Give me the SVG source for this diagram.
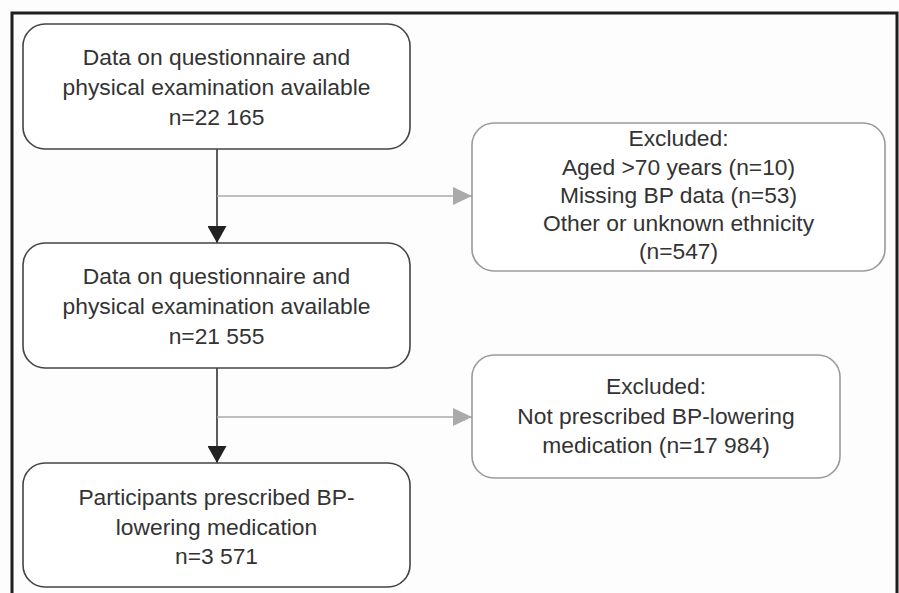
<svg xmlns="http://www.w3.org/2000/svg" width="899" height="593" viewBox="0 0 899 593">
<defs>
<style>
.main{fill:#ffffff;stroke:#444;stroke-width:1.6}
.excl{fill:#ffffff;stroke:#9a9a9a;stroke-width:1.6}
text{font-family:"Liberation Sans",Arial,sans-serif;font-size:22.8px;fill:#333;text-anchor:middle}
.dk{stroke:#333;stroke-width:1.6;fill:none}
.gr{stroke:#a8a8a8;stroke-width:1.6;fill:none}
</style>
<marker id="ad" markerWidth="19" markerHeight="17" refX="9.5" refY="17" orient="0" markerUnits="userSpaceOnUse" viewBox="0 0 19 17">
<path d="M0,0 L19,0 L9.5,17 Z" fill="#222"/>
</marker>
<marker id="ag" markerWidth="19" markerHeight="18" refX="19" refY="9" orient="0" markerUnits="userSpaceOnUse" viewBox="0 0 19 18">
<path d="M0,0 L19,9 L0,18 Z" fill="#aaa"/>
</marker>
</defs>
<rect x="0" y="0" width="899" height="593" fill="#fdfdfd"/>
<path d="M12,593 L12,13 L897,13 L897,593" fill="none" stroke="#1e1e1e" stroke-width="3"/>
<g id="connectors">
<line class="dk" x1="217" y1="149" x2="217" y2="243" marker-end="url(#ad)"/>
<line class="gr" x1="217" y1="196" x2="472" y2="196" marker-end="url(#ag)"/>
<line class="dk" x1="217" y1="368" x2="217" y2="463" marker-end="url(#ad)"/>
<line class="gr" x1="217" y1="417" x2="472" y2="417" marker-end="url(#ag)"/>
</g>
<g id="n1">
<rect class="main" x="23" y="24" width="387" height="125" rx="22"/>
<text x="216.5" y="65">Data on questionnaire and</text>
<text x="216.5" y="95">physical examination available</text>
<text x="216.5" y="125">n=22 165</text>
</g>
<g id="ex1">
<rect class="excl" x="472" y="123" width="413" height="148" rx="22"/>
<text x="678.5" y="146">Excluded:</text>
<text x="678.5" y="175">Aged &gt;70 years (n=10)</text>
<text x="678.5" y="203">Missing BP data (n=53)</text>
<text x="678.5" y="231">Other or unknown ethnicity</text>
<text x="678.5" y="259">(n=547)</text>
</g>
<g id="n2">
<rect class="main" x="23" y="243" width="387" height="125" rx="22"/>
<text x="216.5" y="284">Data on questionnaire and</text>
<text x="216.5" y="314">physical examination available</text>
<text x="216.5" y="344">n=21 555</text>
</g>
<g id="ex2">
<rect class="excl" x="472" y="355" width="368" height="123" rx="22"/>
<text x="656" y="394">Excluded:</text>
<text x="656" y="424">Not prescribed BP-lowering</text>
<text x="656" y="453">medication (n=17 984)</text>
</g>
<g id="n3">
<rect class="main" x="23" y="463" width="387" height="124" rx="22"/>
<text x="216.5" y="505">Participants prescribed BP-</text>
<text x="216.5" y="535">lowering medication</text>
<text x="216.5" y="564">n=3 571</text>
</g>
</svg>
